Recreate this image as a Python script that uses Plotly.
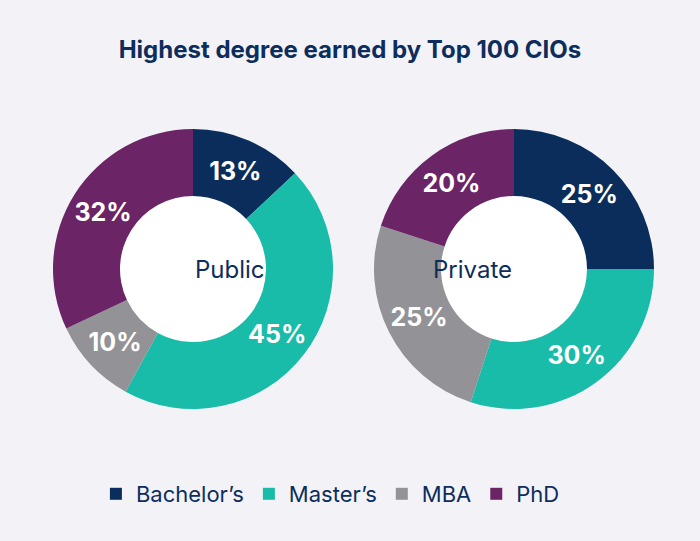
import plotly.graph_objects as go

categories = ["Bachelor\u2019s", "Master\u2019s", "MBA", "PhD"]
public_values = [13, 45, 10, 32]
private_values = [25, 30, 25, 20]
colors = ["#0b2d5b", "#19bba9", "#939397", "#6b2566"]
group_names = ["Public", "Private"]

W, H = 700, 541
R = 140
HOLE_R = 73
centers = [(193, 269), (514, 269)]
FONT = "Inter, Roboto, sans-serif"

fig = go.Figure()
for vals, name, (cx, cy) in zip([public_values, private_values], group_names, centers):
    fx, fy = cx / W, 1 - cy / H
    fig.add_trace(go.Pie(
        labels=categories, values=vals, name=name,
        sort=False, direction="clockwise", rotation=0,
        hole=HOLE_R / R,
        marker=dict(colors=colors, line=dict(width=0)),
        texttemplate="%{value}%", textinfo="text",
        textposition="inside", insidetextorientation="horizontal",
        textfont=dict(family=FONT, size=25, color="white", weight="bold"),
        domain=dict(x=[fx - R / W, fx + R / W], y=[fy - R / H, fy + R / H]),
        hoverinfo="label+percent",
        showlegend=(name == "Public"),
    ))
    fig.add_shape(type="circle", xref="paper", yref="paper", layer="below",
                  x0=fx - HOLE_R / W, x1=fx + HOLE_R / W,
                  y0=fy - HOLE_R / H, y1=fy + HOLE_R / H,
                  fillcolor="white", line=dict(width=0))
    fig.add_annotation(x=fx, y=fy, xref="paper", yref="paper", text=name,
                       showarrow=False,
                       font=dict(family=FONT, size=24, color="#0d2d5c"))

fig.update_layout(
    width=W, height=H,
    margin=dict(l=0, r=0, t=0, b=0),
    paper_bgcolor="#f3f3f7",
    title=dict(text="<b>Highest degree earned by Top 100 CIOs</b>", x=0.5, xanchor="center",
               y=1 - 50 / H, yanchor="middle",
               font=dict(family=FONT, size=24, color="#0d2d5c")),
    legend=dict(orientation="h", x=0.472, xanchor="center", y=1 - 494 / H, yanchor="middle",
                font=dict(family=FONT, size=22, color="#0d2d5c"),
                bgcolor="rgba(0,0,0,0)", traceorder="normal", itemwidth=30),
    uniformtext=dict(minsize=25, mode="show"),
)

fig.write_html("out.html", config={"displayModeBar": False},
               post_script="document.body.style.margin='0';")
